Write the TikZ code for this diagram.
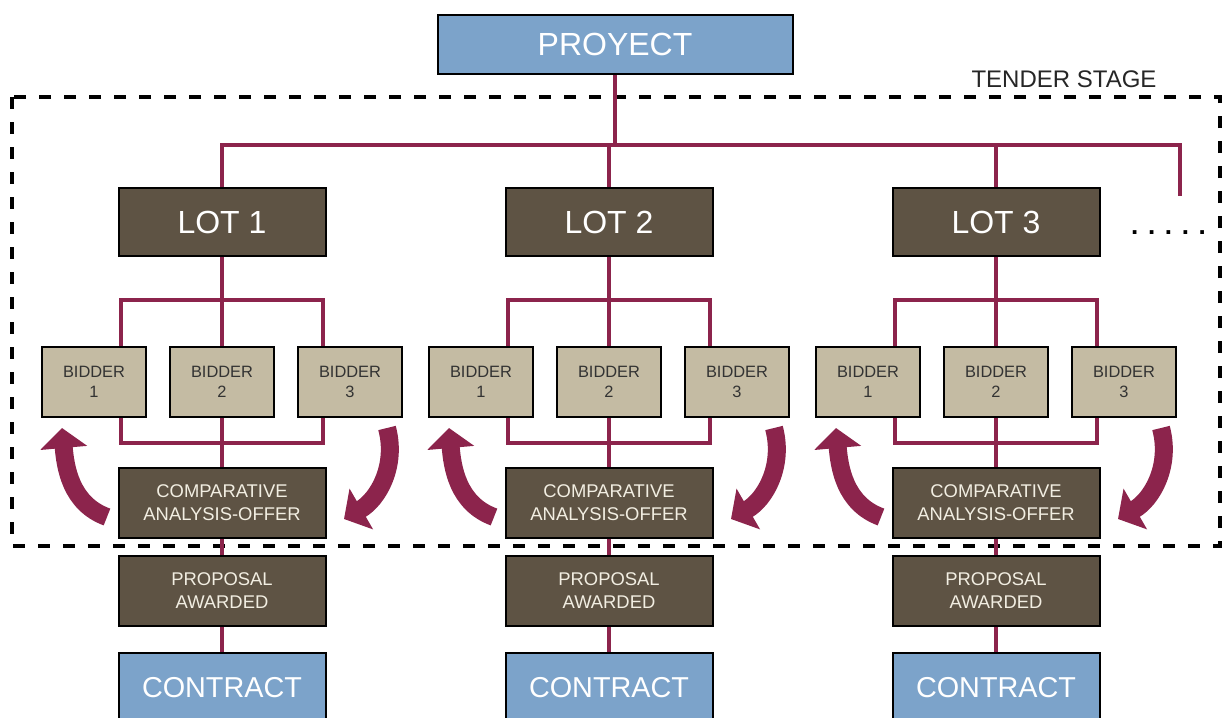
\documentclass[tikz,border=0pt]{standalone}
\usepackage{fontspec}
\setmainfont{Liberation Sans}
\definecolor{TSBlue}{RGB}{124,163,202}
\definecolor{TSBrown}{RGB}{94,83,68}
\definecolor{TSSand}{RGB}{196,187,163}
\definecolor{TSWine}{RGB}{140,36,76}
\definecolor{TSCream}{RGB}{242,238,226}
\usetikzlibrary{arrows.meta, calc}

\begin{document}
\begin{tikzpicture}[x=0.5pt, y=-0.5pt,
    box/.style={draw=black, line width=1pt, inner sep=0pt, align=center},
    bluebox/.style={box, fill=TSBlue, text=white},
    darkbox/.style={box, fill=TSBrown, text=TSCream, minimum width=103.5pt,
      minimum height=35pt, font=\fontsize{9.2}{11.5}\selectfont},
    lotbox/.style={darkbox, minimum height=34pt, text=white,
      font=\fontsize{16}{18}\selectfont},
    bidbox/.style={box, fill=TSSand, text=black!80, minimum width=52pt,
      minimum height=35pt, font=\fontsize{8.2}{10}\selectfont},
    link/.style={TSWine, line width=1.6pt},
    turn/.style={TSWine, line width=9pt, -{Triangle[length=10pt, width=23pt]}},
    stage/.style={black, line width=1.8pt, dash pattern=on 6pt off 6.5pt}]
  \useasboundingbox (0,0) rectangle (1223,718);

  % tender stage frame
  \draw[stage] (12,97) rectangle (1220,546);
  \node[font=\fontsize{12}{14}\selectfont, text=black!85] (stagelabel) at (1064,79) {TENDER STAGE};

  \node[bluebox, minimum width=177.5pt, minimum height=29.5pt,
    font=\fontsize{16}{18}\selectfont] (proyect) at (615,44.5) {PROYECT};

  \foreach \cx/\k in {222/1, 609/2, 996/3} {
    \node[lotbox] (lot\k) at (\cx,222) {LOT \k};
    \foreach \n/\dx in {1/-128, 2/0, 3/128}
      \node[bidbox] (bid\k\n) at (\cx+\dx,382) {BIDDER\\\n};
    \node[darkbox] (cmp\k) at (\cx,503) {COMPARATIVE\\ANALYSIS-OFFER};
    \node[darkbox] (prop\k) at (\cx,591) {PROPOSAL\\AWARDED};
    \node[bluebox, minimum width=103.5pt, minimum height=35pt,
      font=\fontsize{14.4}{16}\selectfont] (ctr\k) at (\cx,688) {CONTRACT};

    % branches to and from the bidders
    \coordinate (ul\k) at (\cx-101,300);
    \coordinate (ur\k) at (\cx+101,300);
    \coordinate (dl\k) at (\cx-101,443);
    \coordinate (dr\k) at (\cx+101,443);
    \draw[link] (lot\k) -- (bid\k2);
    \draw[link] (bid\k1.north -| ul\k) |- (ur\k) -- (bid\k3.north -| ur\k);
    \draw[link] (bid\k1.south -| dl\k) |- (dr\k) -- (bid\k3.south -| dr\k);
    \draw[link] (bid\k2) -- (cmp\k);
    \draw[link] (cmp\k) -- (prop\k);
    \draw[link] (prop\k) -- (ctr\k);

    % curved arrows round the analysis
    \coordinate (lt\k) at (\cx-115,517);
    \coordinate (lh\k) at (\cx-160,428);
    \coordinate (rt\k) at (\cx+165,428);
    \coordinate (rh\k) at (\cx+122,519);
    \draw[turn] (lt\k) to[out=160, in=-85] (lh\k);
    \draw[turn] (rt\k) to[out=-75, in=30] (rh\k);
  }

  \coordinate (hub) at (615,145);
  \coordinate (more) at (1180,196);
  \draw[link] (proyect) -- (proyect |- hub);
  \draw[link] (lot1) |- (more |- hub) -- (more);
  \draw[link] (lot2) -- (lot2 |- hub);
  \draw[link] (lot3) -- (lot3 |- hub);
  \node[font=\bfseries\fontsize{13}{15}\selectfont, anchor=base] (etc) at (1168.5,234) {. . . . .};
\end{tikzpicture}
\end{document}
